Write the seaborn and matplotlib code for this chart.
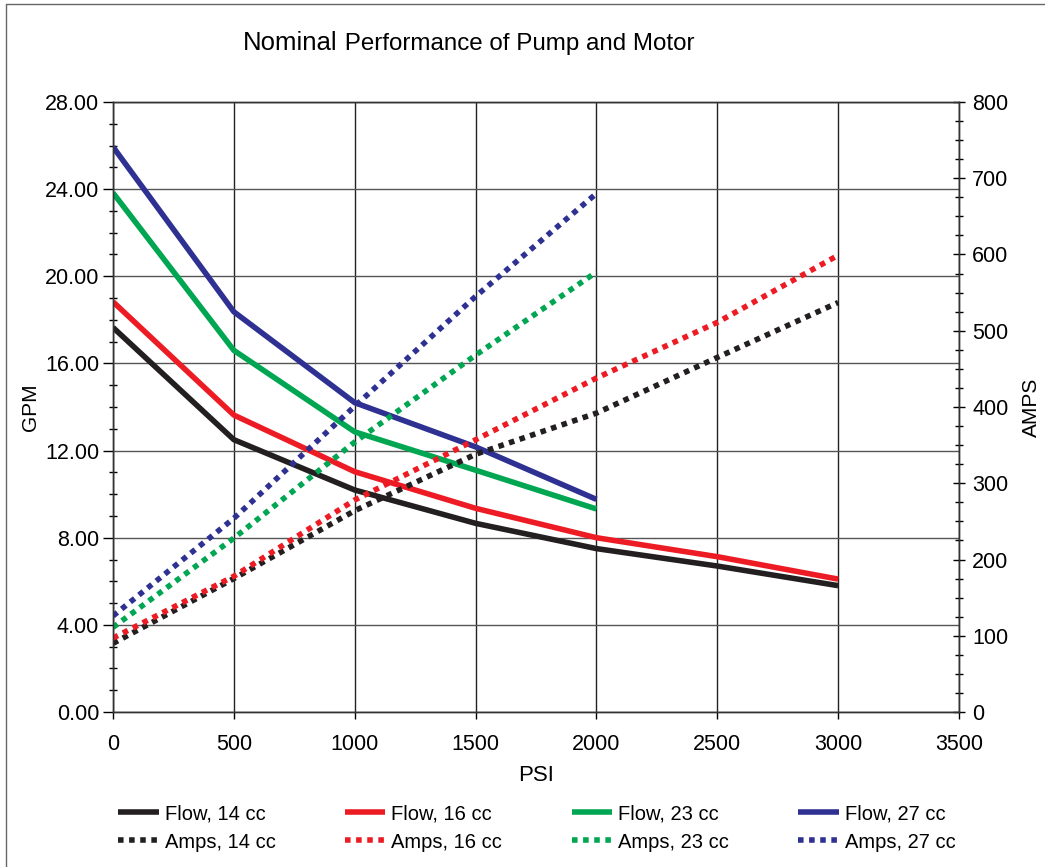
import matplotlib
matplotlib.use("Agg")
import matplotlib.pyplot as plt
from matplotlib.lines import Line2D
from matplotlib.ticker import MultipleLocator, FormatStrFormatter
import seaborn as sns

# Values
psi = [0, 500, 1000, 1500, 2000, 2500, 3000]
flow_14 = [17.65, 12.50, 10.19, 8.66, 7.50, 6.70, 5.80]
flow_16 = [18.83, 13.63, 11.03, 9.35, 8.00, 7.13, 6.10]
flow_23 = [23.83, 16.60, 12.86, 11.10, 9.32]
flow_27 = [25.94, 18.37, 14.20, 12.17, 9.76]
amps_14 = [90, 175, 264, 338, 392, 465, 537]
amps_16 = [97, 178, 278, 357, 438, 511, 599]
amps_23 = [111, 228, 354, 468, 577]
amps_27 = [126, 254, 401, 545, 680]

sizes = ['14 cc', '16 cc', '23 cc', '27 cc']
colors = ['#231f20', '#ed1c24', '#00a651', '#2e3192']
flows = [flow_14, flow_16, flow_23, flow_27]
amps = [amps_14, amps_16, amps_23, amps_27]

sns.set_theme(style="white")
plt.rcParams['font.family'] = ['Liberation Sans', 'DejaVu Sans']
plt.rcParams['text.color'] = 'black'
plt.rcParams['axes.labelcolor'] = 'black'
plt.rcParams['xtick.color'] = 'black'
plt.rcParams['ytick.color'] = 'black'

fig = plt.figure(figsize=(10.45, 8.67), dpi=100)
ax = fig.add_axes([113 / 1045, 1 - 712 / 867, 846 / 1045, 610 / 867])
ax2 = ax.twinx()

flow_handles = []
amp_handles = []
for size, c, f, a in zip(sizes, colors, flows, amps):
    sns.lineplot(x=psi[:len(f)], y=f, ax=ax, color=c, linewidth=4,
                 solid_capstyle='butt', legend=False)
    sns.lineplot(x=psi[:len(a)], y=a, ax=ax2, color=c, linewidth=4,
                 linestyle=(0, (1, 1)), dash_capstyle='butt', legend=False)
    flow_handles.append(Line2D([], [], color=c, lw=4, solid_capstyle='butt'))
    amp_handles.append(Line2D([], [], color=c, lw=4, ls=(0, (1, 1)), dash_capstyle='butt'))

# axes ranges and ticks
ax.set_xlim(0, 3500)
ax.set_ylim(0, 28)
ax2.set_ylim(0, 800)
ax.xaxis.set_major_locator(MultipleLocator(500))
ax.yaxis.set_major_locator(MultipleLocator(4))
ax.yaxis.set_minor_locator(MultipleLocator(1))
ax.yaxis.set_major_formatter(FormatStrFormatter('%.2f'))
ax2.yaxis.set_major_locator(MultipleLocator(100))
ax2.yaxis.set_minor_locator(MultipleLocator(25))

ax.tick_params(axis='y', which='major', direction='out', length=7, width=1, labelsize=15.5, pad=3)
ax.tick_params(axis='y', which='minor', direction='inout', length=6, width=1, left=True)
ax.tick_params(axis='x', which='major', direction='out', length=5, width=1, labelsize=15.5, pad=11, bottom=True)
ax2.tick_params(axis='y', which='major', direction='inout', length=9, width=1, labelsize=15.5, pad=5, right=True)
ax2.tick_params(axis='y', which='minor', direction='inout', length=6, width=1, right=True)

ax.grid(axis='y', which='major', color='#555555', linewidth=1)
ax.grid(axis='x', which='major', color='#222222', linewidth=1)
ax2.grid(False)
for a_ in (ax, ax2):
    for sp in a_.spines.values():
        sp.set_color('#333333')
        sp.set_linewidth(1)

ax.set_xlabel('PSI', fontsize=16, labelpad=7)
ax.set_ylabel('GPM', fontsize=15)
ax2.set_ylabel('AMPS', fontsize=15)
ax.yaxis.set_label_coords(-0.086, 0.5)
ax2.yaxis.set_label_coords(1.074, 0.5)

# title, "Nominal" a little larger
t1 = fig.text(243 / 1045, 1 - 50 / 867, 'Nominal', fontsize=18.5, ha='left', va='baseline')
ax.annotate(' Performance of Pump and Motor', xy=(1, 0), xycoords=t1,
            fontsize=17.4, ha='left', va='bottom', annotation_clip=False)

# legend: flows on first row, amps on second
handles = []
labels = []
for size, fh, ah in zip(sizes, flow_handles, amp_handles):
    handles += [fh, ah]
    labels += ['Flow, ' + size, 'Amps, ' + size]
fig.legend(handles, labels, ncol=4, loc='center', bbox_to_anchor=(537 / 1045, 1 - 828 / 867),
           frameon=False, fontsize=14.5, handlelength=2.0, handletextpad=0.3,
           columnspacing=3.45, labelspacing=0.45)

# thin outer frame
fig.add_artist(Line2D([0.006, 0.006], [0, 0.995], transform=fig.transFigure, color='#666666', lw=1))
fig.add_artist(Line2D([0.006, 1], [0.995, 0.995], transform=fig.transFigure, color='#666666', lw=1))

fig.savefig('out.png', dpi=100)
